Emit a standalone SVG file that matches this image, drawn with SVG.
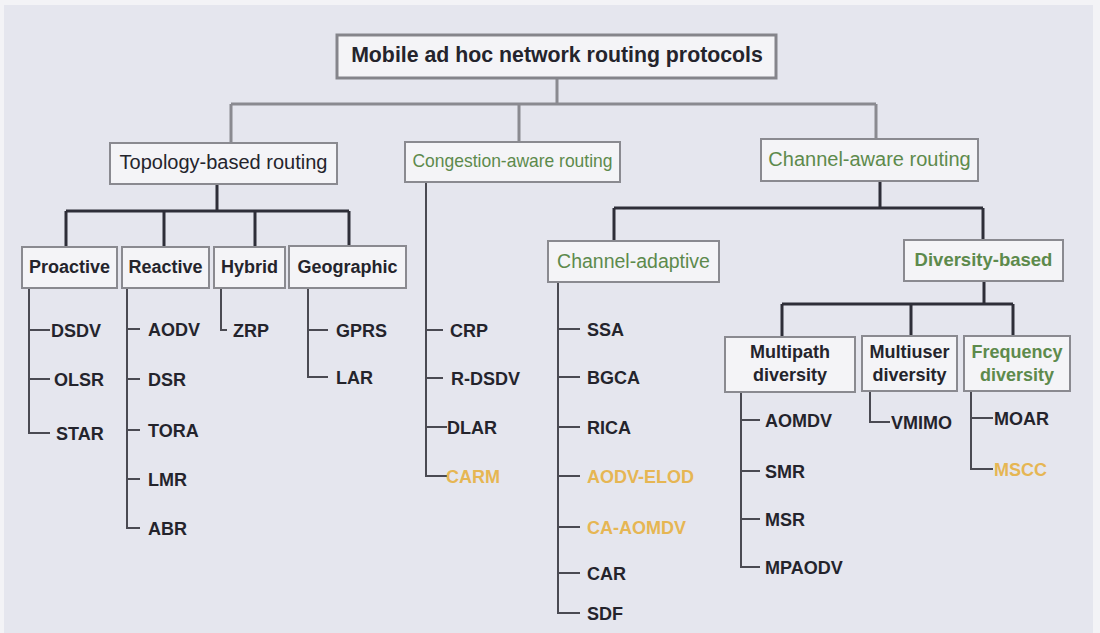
<svg xmlns="http://www.w3.org/2000/svg" width="1100" height="633" viewBox="0 0 1100 633">
<style>
.box{fill:#f4f4f7;stroke:#8a8a90;stroke-width:2}
.rootbox{fill:#f4f4f7;stroke:#85858b;stroke-width:3}
.t{font-family:"Liberation Sans",Arial,sans-serif;fill:#24242c}
.b{font-weight:bold;font-size:18px}
.g{fill:#5d8a4c}
.y{fill:#e6b653}
.c text{text-anchor:middle}
.l1{stroke:#8a8a90;stroke-width:3;fill:none}
.l2{stroke:#2e2e38;stroke-width:3;fill:none}
.l3{stroke:#4a4a52;stroke-width:2;fill:none}
</style>
<rect x="0" y="0" width="1100" height="633" fill="#f3f3f6"/>
<rect x="4" y="5" width="1089" height="628" fill="#e5e6ee"/>
<g id="connectors">
<path class="l1" d="M557 78V104M231 104H876M231 104V143M519 104V142M876 104V139"/>
<path class="l2" d="M217 184V211M66 211H349M66 211V247M164 211V247M255 211V247M349 211V247"/>
<path class="l2" d="M880 181V208M614 208H983M614 208V241M983 208V240"/>
<path class="l2" d="M984 281V304M782 304H1013M782 304V337M911 304V337M1013 304V337"/>
<path class="l3" d="M29 288V433H50M29 330H50M29 379H50"/>
<path class="l3" d="M127 288V528H140M127 329H140M127 379H140M127 430H140M127 479H140"/>
<path class="l3" d="M221 288V330H227"/>
<path class="l3" d="M308 288V377H328M308 330H328"/>
<path class="l3" d="M426 182V476H447M426 330H443M426 378H443M426 427H447"/>
<path class="l3" d="M558 282V613H580M558 329H580M558 377H580M558 427H580M558 476H580M558 527H580M558 573H580"/>
<path class="l3" d="M741 392V567H760M741 420H760M741 471H760M741 519H760"/>
<path class="l3" d="M870 391V422H890"/>
<path class="l3" d="M971 391V469H993M971 418H993"/>
</g>
<g id="root" class="c"><rect class="rootbox" x="337" y="35" width="439" height="43"/><text class="t b" x="557" y="62" style="font-size:21.3px">Mobile ad hoc network routing protocols</text></g>
<g id="topology" class="c"><rect class="box" x="110" y="143" width="227" height="41"/><text class="t" x="223.5" y="169" style="font-size:20px">Topology-based routing</text></g>
<g id="congestion" class="c"><rect class="box" x="405" y="142" width="215" height="40"/><text class="t g" x="512.5" y="167" style="font-size:18.5px" textLength="200" lengthAdjust="spacingAndGlyphs">Congestion-aware routing</text></g>
<g id="channel" class="c"><rect class="box" x="761" y="139" width="217" height="42"/><text class="t g" x="869.5" y="166" style="font-size:20px">Channel-aware routing</text></g>
<g id="proactive" class="c"><rect class="box" x="22" y="247" width="95" height="41"/><text class="t b" x="69.5" y="273">Proactive</text></g>
<g id="reactive" class="c"><rect class="box" x="122" y="247" width="87" height="41"/><text class="t b" x="165.5" y="273">Reactive</text></g>
<g id="hybrid" class="c"><rect class="box" x="214" y="247" width="71" height="41"/><text class="t b" x="249.5" y="273">Hybrid</text></g>
<g id="geographic" class="c"><rect class="box" x="289" y="246" width="117" height="42"/><text class="t b" x="347.5" y="273">Geographic</text></g>
<g id="channeladaptive" class="c"><rect class="box" x="548" y="241" width="171" height="41"/><text class="t g" x="633.5" y="268" style="font-size:19.5px">Channel-adaptive</text></g>
<g id="diversity" class="c"><rect class="box" x="904" y="240" width="159" height="41"/><text class="t b g" x="983.5" y="266" style="font-size:18.5px">Diversity-based</text></g>
<g id="multipath" class="c"><rect class="box" x="725" y="337" width="130" height="55"/><text class="t b" x="790" y="358">Multipath</text><text class="t b" x="790" y="381">diversity</text></g>
<g id="multiuser" class="c"><rect class="box" x="862" y="336" width="95" height="55"/><text class="t b" x="909.5" y="358">Multiuser</text><text class="t b" x="909.5" y="381">diversity</text></g>
<g id="frequency" class="c"><rect class="box" x="964" y="336" width="106" height="55"/><text class="t b g" x="1017" y="358">Frequency</text><text class="t b g" x="1017" y="381">diversity</text></g>
<g id="leaves">
<text class="t b" x="51" y="336.5">DSDV</text>
<text class="t b" x="54" y="385.5">OLSR</text>
<text class="t b" x="56" y="439.5">STAR</text>
<text class="t b" x="148" y="335.5">AODV</text>
<text class="t b" x="148" y="385.5">DSR</text>
<text class="t b" x="148" y="436.5">TORA</text>
<text class="t b" x="148" y="485.5">LMR</text>
<text class="t b" x="148" y="534.5">ABR</text>
<text class="t b" x="233" y="336.5">ZRP</text>
<text class="t b" x="336" y="336.5">GPRS</text>
<text class="t b" x="336" y="383.5">LAR</text>
<text class="t b" x="450" y="336.5">CRP</text>
<text class="t b" x="451" y="384.5">R-DSDV</text>
<text class="t b" x="447" y="433.5">DLAR</text>
<text class="t b y" x="446" y="482.5">CARM</text>
<text class="t b" x="587" y="335.5">SSA</text>
<text class="t b" x="587" y="383.5">BGCA</text>
<text class="t b" x="587" y="433.5">RICA</text>
<text class="t b y" x="587" y="482.5">AODV-ELOD</text>
<text class="t b y" x="587" y="533.5">CA-AOMDV</text>
<text class="t b" x="587" y="579.5">CAR</text>
<text class="t b" x="587" y="619.5">SDF</text>
<text class="t b" x="765" y="426.5">AOMDV</text>
<text class="t b" x="765" y="477.5">SMR</text>
<text class="t b" x="765" y="525.5">MSR</text>
<text class="t b" x="765" y="573.5">MPAODV</text>
<text class="t b" x="891" y="428.5">VMIMO</text>
<text class="t b" x="994" y="424.5">MOAR</text>
<text class="t b y" x="994" y="475.5">MSCC</text>
</g>
</svg>
